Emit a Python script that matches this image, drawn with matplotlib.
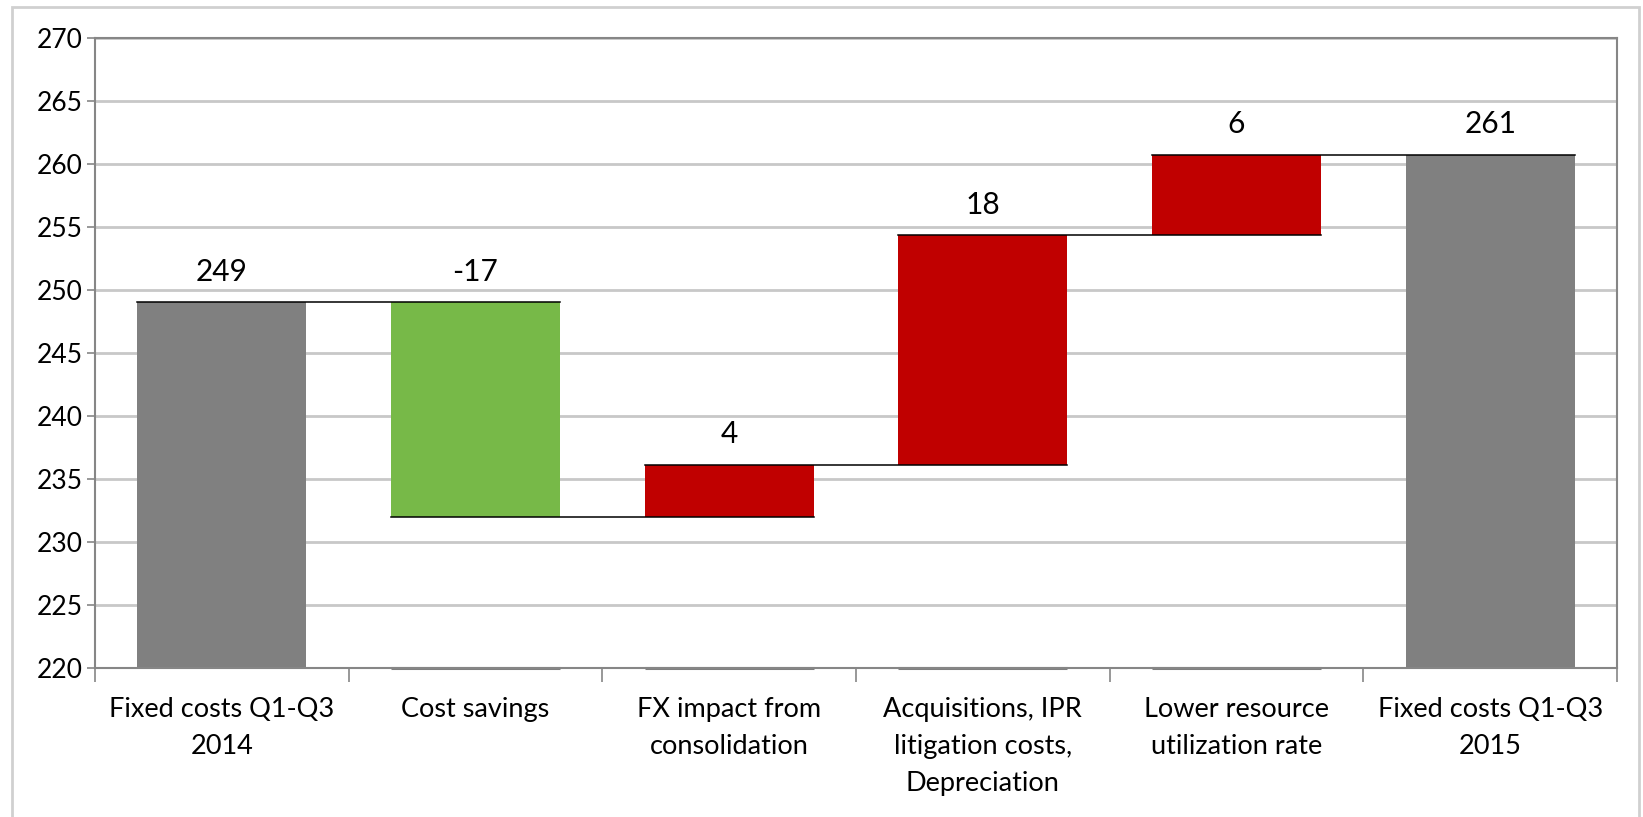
import matplotlib
matplotlib.use("Agg")
import matplotlib.pyplot as plt
from matplotlib.patches import Rectangle
from matplotlib.ticker import FixedLocator, MultipleLocator

# Fixed-cost bridge, Q1-Q3 2014 -> Q1-Q3 2015
categories = [
    "Fixed costs Q1-Q3\n2014",
    "Cost savings",
    "FX impact from\nconsolidation",
    "Acquisitions, IPR\nlitigation costs,\nDepreciation",
    "Lower resource\nutilization rate",
    "Fixed costs Q1-Q3\n2015",
]
start_value = 249.0
changes = [-17.0, 4.1, 18.2, 6.4]
y_min, y_max = 220, 270

GREY = "#808080"
GREEN = "#77b948"
RED = "#c00000"

plt.rcParams["font.family"] = ["Lato", "DejaVu Sans"]

fig = plt.figure(figsize=(16.43, 8.17), dpi=100)
ax = fig.add_axes([95 / 1643, 1 - 668 / 817, (1617 - 95) / 1643, (668 - 37.5) / 817])

# running levels of the bridge
levels = [start_value]
for c in changes:
    levels.append(levels[-1] + c)
end_value = levels[-1]

width = 0.665
bottoms, heights, colors, values = [], [], [], []
bottoms.append(y_min); heights.append(start_value - y_min); colors.append(GREY); values.append(start_value)
for i, c in enumerate(changes):
    lo, hi = sorted((levels[i], levels[i + 1]))
    bottoms.append(lo); heights.append(hi - lo)
    colors.append(GREEN if c < 0 else RED); values.append(c)
bottoms.append(y_min); heights.append(end_value - y_min); colors.append(GREY); values.append(end_value)

x = list(range(len(categories)))
ax.bar(x, heights, width=width, bottom=bottoms, color=colors, zorder=3, linewidth=0)

# thin base marks under the floating bars
for i in range(1, len(categories) - 1):
    ax.plot([i - width / 2, i + width / 2], [y_min, y_min], color="#7f7f7f", lw=2.2,
            zorder=4, clip_on=False, solid_capstyle="butt")

# connector lines between consecutive bars
for i, lvl in enumerate(levels):
    ax.plot([i - width / 2, i + 1 + width / 2], [lvl, lvl], color="black", lw=1.1, zorder=4)

# value labels
for i, (b, h, v) in enumerate(zip(bottoms, heights, values)):
    ax.annotate(f"{v:.0f}", (i, b + h), xytext=(0, 12), textcoords="offset points",
                ha="center", va="bottom", fontsize=21.5, color="black")

ax.set_xlim(-0.5, len(categories) - 0.5)
ax.set_ylim(y_min, y_max)
ax.yaxis.set_major_locator(MultipleLocator(5))
ax.grid(axis="y", color="#c8c8c8", lw=2, zorder=0)
ax.set_axisbelow(True)

ax.set_xticks(x)
ax.set_xticklabels(categories, fontsize=19.5, linespacing=1.6)
ax.tick_params(axis="x", which="major", length=0, pad=21)
ax.xaxis.set_minor_locator(FixedLocator([i + 0.5 for i in range(-1, len(categories))]))
ax.tick_params(axis="x", which="minor", length=10, width=1.2, color="#868686")
ax.tick_params(axis="y", labelsize=19, length=6, width=1.2, color="#868686", pad=3)

for side in ["left", "right", "top", "bottom"]:
    ax.spines[side].set_color("#868686")
    ax.spines[side].set_linewidth(1.5)
ax.spines["bottom"].set_zorder(5)

# outer chart frame
fig.patches.append(Rectangle((12 / 1643, -0.05), (1639 - 12) / 1643, 1.05 - 7 / 817,
                             transform=fig.transFigure, fill=False,
                             edgecolor="#d0d0d0", lw=2))

fig.savefig("out.png", dpi=100)
